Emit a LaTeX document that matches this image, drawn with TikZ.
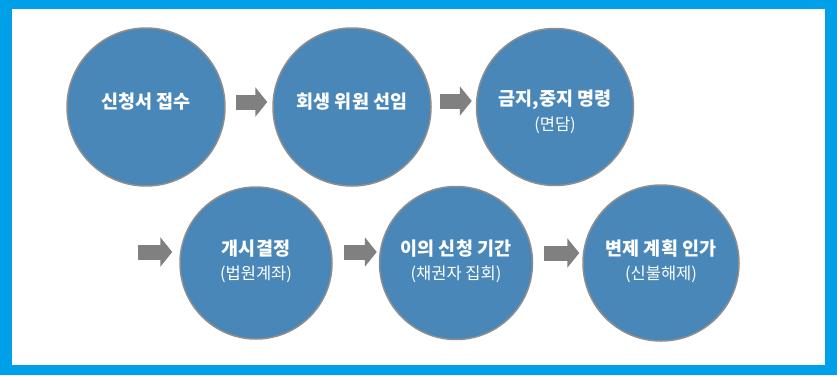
\documentclass[tikz,border=0pt]{standalone}
\usepackage{fontspec}
\setmainfont{Noto Sans CJK KR}
\usetikzlibrary{arrows.meta}
\definecolor{frameblue}{HTML}{00A0E9}
\definecolor{discblue}{HTML}{4887B8}
\definecolor{discedge}{HTML}{8E8E8E}
\definecolor{arrowgray}{HTML}{808080}
\tikzset{
  disc/.style={circle, fill=discblue, draw=discedge, line width=1.5pt, inner sep=0pt, minimum size=#1},
  mainlbl/.style={text=white, font=\bfseries\fontsize{18.5}{21}\selectfont, inner sep=0pt},
  sublbl/.style={text=white, font=\fontsize{16.5}{19}\selectfont, inner sep=0pt},
  blockarrow/.style={draw=arrowgray, line width=15pt, -{Triangle[width=29pt,length=12pt]}}
}
\begin{document}
\begin{tikzpicture}[x=1pt,y=-1pt]
\useasboundingbox (0,0) rectangle (837,375);
\fill[frameblue] (0,0) rectangle (837,375);
\fill[white] (12,9) rectangle (825,365);
% row 1
\node[disc=158pt] (c1) at (146,107) {};
\node[disc=158pt] (c2) at (352,107) {};
\node[disc=157pt] (c3) at (555,107) {};
% row 2
\node[disc=152pt] (c4) at (256,263) {};
\node[disc=153pt] (c5) at (456,263) {};
\node[disc=156pt] (c6) at (661,263) {};
% labels
\node[mainlbl] (t1) at (146,102) {신청서 접수};
\node[mainlbl] (t2) at (352,102) {회생 위원 선임};
\node[mainlbl] (t3) at (555,100) {금지,중지 명령};
\node[sublbl] (s3) at (555,125) {(면담)};
\node[mainlbl] (t4) at (256,249) {개시결정};
\node[sublbl] (s4) at (256,274) {(법원계좌)};
\node[mainlbl] (t5) at (456,249) {이의 신청 기간};
\node[sublbl] (s5) at (456,274) {(채권자 집회)};
\node[mainlbl] (t6) at (661,249) {변제 계획 인가};
\node[sublbl] (s6) at (661,274) {(신불해제)};
% arrows
\coordinate (a0) at (138,252);
\draw[blockarrow] ([xshift=10pt,yshift=5pt]c1.east) -- ([xshift=-5pt,yshift=5pt]c2.west);
\draw[blockarrow] ([xshift=8pt,yshift=6pt]c2.east) -- ([xshift=-4pt,yshift=6pt]c3.west);
\draw[blockarrow] (a0) -- ([xshift=-7pt,yshift=11pt]c4.west);
\draw[blockarrow] ([xshift=11pt,yshift=11pt]c4.east) -- ([xshift=-2pt,yshift=11pt]c5.west);
\draw[blockarrow] ([xshift=11pt,yshift=10pt]c5.east) -- ([xshift=-3pt,yshift=10pt]c6.west);
\end{tikzpicture}
\end{document}
